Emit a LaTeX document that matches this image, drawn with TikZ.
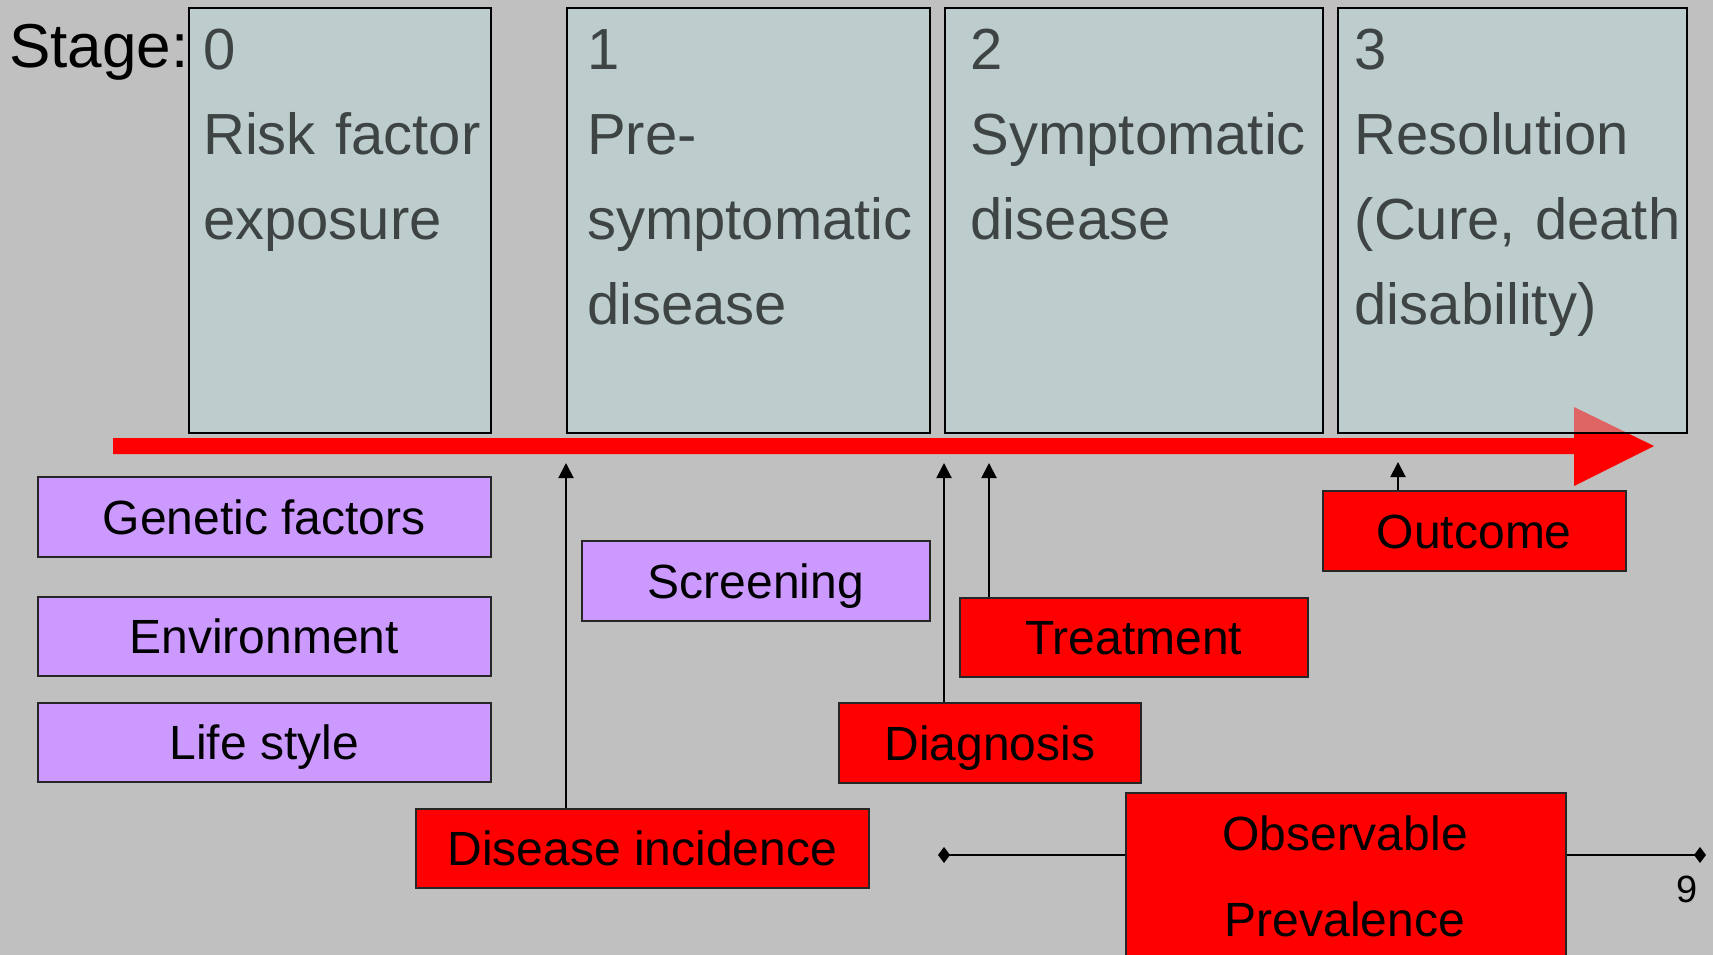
\documentclass[tikz,border=0pt]{standalone}
\usepackage{fontspec}
\setmainfont{Liberation Sans}
\usetikzlibrary{arrows.meta}
\definecolor{bg}{RGB}{192,192,192}
\definecolor{stagefill}{RGB}{186,222,222}
\definecolor{stagetext}{RGB}{62,68,68}
\definecolor{lav}{RGB}{204,153,255}
\definecolor{redbox}{RGB}{255,0,0}
\begin{document}
\begin{tikzpicture}[x=1pt,y=-1pt,
  stagebox/.style={draw=black, line width=2pt, fill=stagefill, fill opacity=0.45, draw opacity=1,
    inner sep=0pt, anchor=north west, minimum height=425pt},
  stagetxt/.style={anchor=base west, inner sep=0pt, text=stagetext, text width=400pt, align=left,
    font=\fontsize{58}{85}\selectfont},
  lbox/.style={draw=black!85, line width=1.6pt, inner sep=0pt, anchor=north west,
    font=\fontsize{48}{58}\selectfont, text height=34.4pt, text depth=0pt},
  purplebox/.style={lbox, fill=lav},
  redlbl/.style={lbox, fill=redbox},
  conn/.style={draw=black, line width=2pt, -{Triangle[width=15pt,length=15pt]}},
  pline/.style={draw=black, line width=2pt, -{Diamond[width=16pt,length=12pt]}}
]
\useasboundingbox (0,0) rectangle (1713,955);
\fill[bg] (0,0) rectangle (1713,955);

% timeline arrow
\fill[red] (113,438) -- (1574,438) -- (1574,407) -- (1654,446) -- (1574,486) -- (1574,454) -- (113,454) -- cycle;

% stage boxes
\node[stagebox, minimum width=302pt] (b0) at (188,7) {};
\node[stagebox, minimum width=363pt] (b1) at (566,7) {};
\node[stagebox, minimum width=378pt] (b2) at (944,7) {};
\node[stagebox, minimum width=349pt] (b3) at (1337,7) {};

\node[stagetxt] (t0) at (203,70) {0\\Risk factor\\exposure};
\node[stagetxt] (t1txt) at (587,70) {1\\Pre-\\symptomatic\\disease};
\node[stagetxt] (t2txt) at (970.5,70) {2\\Symptomatic\\disease};
\node[stagetxt] (t3txt) at (1354.5,70) {3\\Resolution\\(Cure, death\\disability)};

\node[anchor=base west, inner sep=0pt, font=\fontsize{62}{72}\selectfont] (stage) at (9,68) {Stage:};

% lower boxes
\node[purplebox, minimum width=453pt, minimum height=80pt] (gen) at (37,476) {Genetic factors};
\node[purplebox, minimum width=453pt, minimum height=79pt] (env) at (37,596) {Environment};
\node[purplebox, minimum width=453pt, minimum height=79pt] (life) at (37,702) {Life style};
\node[purplebox, minimum width=348pt, minimum height=80pt] (scr) at (581,540) {Screening};
\node[redlbl, minimum width=348pt, minimum height=79pt] (treat) at (959,597) {Treatment};
\node[redlbl, minimum width=302pt, minimum height=80pt] (diag) at (838,702) {Diagnosis};
\node[redlbl, minimum width=303pt, minimum height=80pt] (out) at (1322,490) {Outcome};
\node[redlbl, minimum width=453pt, minimum height=79pt] (inc) at (415,808) {Disease incidence};

% connectors
\coordinate (a1) at (566,463);
\coordinate (a2) at (944,463);
\coordinate (a3) at (989,463);
\coordinate (a4) at (1398,462);
\draw[conn] (inc.north -| a1) -- (a1);
\draw[conn] (diag.north -| a2) -- (a2);
\draw[conn] (treat.north -| a3) -- (a3);
\draw[conn] (out.north -| a4) -- (a4);

% observable prevalence
\node[lbox, fill=redbox, minimum width=440pt, minimum height=200pt] (obs) at (1125,792) {};
\node[anchor=base, inner sep=0pt, text width=440pt, align=center,
  font=\fontsize{48}{86}\selectfont] (obstxt) at (1345,850) {Observable\\Prevalence};
\coordinate (dl) at (938,855);
\coordinate (dr) at (1706,855);
\draw[pline] (obs.west |- dl) -- (dl);
\draw[pline] (obs.east |- dr) -- (dr);

\node[anchor=base west, inner sep=0pt, font=\fontsize{38}{46}\selectfont] (pg) at (1676,902) {9};
\end{tikzpicture}
\end{document}
